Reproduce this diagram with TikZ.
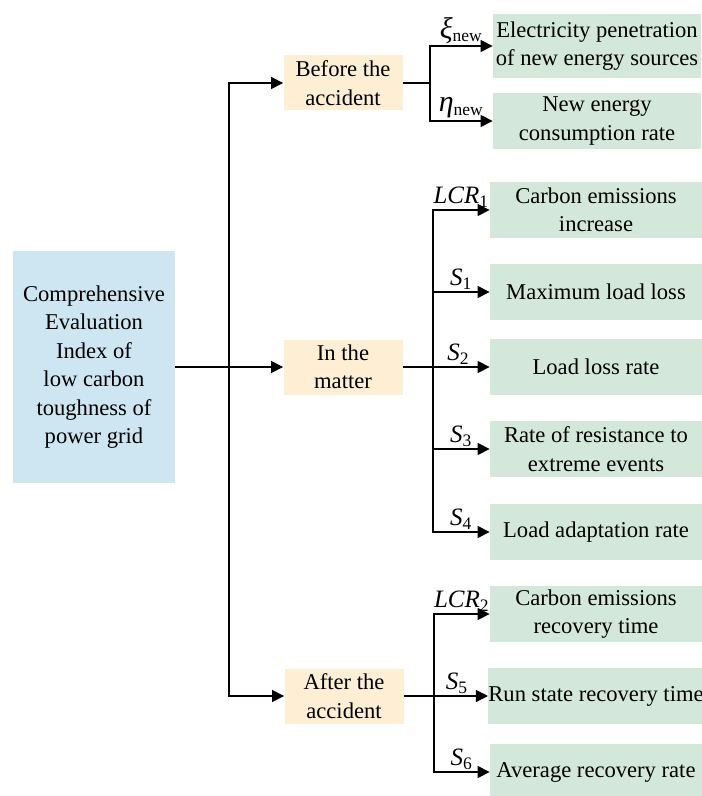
\documentclass[tikz,border=0pt]{standalone}
\usepackage{fontspec}
\setmainfont{Liberation Serif}
\newfontfamily\timesfont{Liberation Serif}
\usetikzlibrary{arrows.meta,positioning,calc}
\definecolor{rootblue}{RGB}{206,230,242}
\definecolor{stageorange}{RGB}{253,238,212}
\definecolor{leafgreen}{RGB}{211,231,218}
\tikzset{
    line/.style     = {-{Triangle[length=6pt,width=6pt]}, line width=0.6pt},
    link/.style     = {line width=0.6pt},
    rootbox/.style  = {fill=rootblue, minimum width=81pt, minimum height=116pt,
            align=center, inner sep=0pt},
    stagebox/.style = {fill=stageorange, minimum width=59.5pt, minimum height=27.5pt,
            align=center, inner sep=0pt},
    leafbox/.style  = {fill=leafgreen, minimum width=106pt, minimum height=28pt,
            align=center, inner sep=0pt},
    tag/.style      = {above, inner sep=1pt, font=\timesfont\fontsize{12.5}{14}\selectfont},
}

\begin{document}
\begin{tikzpicture}[x=0.5pt, y=-0.5pt, font=\timesfont\fontsize{11.3}{14.2}\selectfont]
            \useasboundingbox (0,0) rectangle (701,796);
            % Nodes
            \node[rootbox] (root) at (94,367) {Comprehensive\\Evaluation\\Index of\\low carbon\\toughness of\\power grid};
            \node[stagebox] (before) at (343,83) {Before the\\accident};
            \node[stagebox] (matter) at (343,367) {In the\\matter};
            \node[stagebox] (after) at (344,696) {After the\\accident};

            \node[leafbox, minimum height=32pt, minimum width=104pt] (e1) at (597,46) {Electricity penetration\\of new energy sources};
            \node[leafbox, minimum width=104pt] (e2) at (597,121) {New energy\\consumption rate};

            \node[leafbox] (m1) at (596,210) {Carbon emissions\\increase};
            \node[leafbox] (m2) at (596,292) {Maximum load loss};
            \node[leafbox] (m3) at (596,367) {Load loss rate};
            \node[leafbox] (m4) at (596,449) {Rate of resistance to\\extreme events};
            \node[leafbox] (m5) at (596,532) {Load adaptation rate};

            \node[leafbox] (a1) at (596,614) {Carbon emissions\\recovery time};
            \node[leafbox] (a2) at (596,696) {Run state recovery time};
            \node[leafbox] (a3) at (596,772) {Average recovery rate};

            % junctions
            \coordinate (tj) at (229,367);
            \coordinate (bj) at (430,83);
            \coordinate (mj) at (433,367);
            \coordinate (aj) at (434,696);

            % Arrows
            \draw[line] (root) -- (matter);
            \draw[line] (tj) |- (before);
            \draw[line] (tj) |- (after);

            \draw[link] (before) -- (bj);
            \draw[line] (bj) |- node[tag, pos=0.75]{{\fontsize{15}{15}\selectfont\textit{ξ}}\textsubscript{new}} (e1);
            \draw[line] (bj) |- node[tag, pos=0.75]{{\fontsize{15}{15}\selectfont\textit{η}}\textsubscript{new}} (e2);

            \draw[line] (mj) |- node[tag, pos=0.75]{\textit{LCR}\textsubscript{1}} (m1);
            \draw[line] (mj) |- node[tag, pos=0.75]{\textit{S}\textsubscript{1}} (m2);
            \draw[line] (matter) -- node[tag, pos=0.64]{\textit{S}\textsubscript{2}} (m3);
            \draw[line] (mj) |- node[tag, pos=0.75]{\textit{S}\textsubscript{3}} (m4);
            \draw[line] (mj) |- node[tag, pos=0.75]{\textit{S}\textsubscript{4}} (m5);

            \draw[line] (aj) |- node[tag, pos=0.75]{\textit{LCR}\textsubscript{2}} (a1);
            \draw[line] (after) -- node[tag, pos=0.63]{\textit{S}\textsubscript{5}} (a2);
            \draw[line] (aj) |- node[tag, pos=0.75]{\textit{S}\textsubscript{6}} (a3);
        \end{tikzpicture}
\end{document}
